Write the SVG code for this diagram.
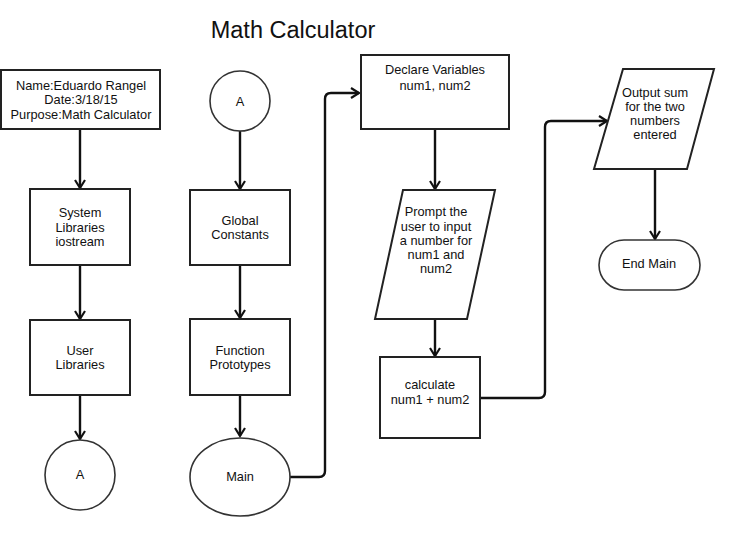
<svg xmlns="http://www.w3.org/2000/svg" width="738" height="535" viewBox="0 0 738 535">
<style>
.box{fill:#fff;stroke:#222;stroke-width:2}
.circ{fill:#fff;stroke:#333;stroke-width:1.6}
.t{font-family:"Liberation Sans",Arial,sans-serif;font-size:12.8px;fill:#111;text-anchor:middle}
.title{font-family:"Liberation Sans",Arial,sans-serif;font-size:23.5px;fill:#111;text-anchor:middle}
.c{fill:none;stroke:#111;stroke-width:2.4;marker-end:url(#ah)}
</style>
<defs>
<marker id="ah" markerUnits="userSpaceOnUse" markerWidth="14" markerHeight="14" viewBox="-10 -7 14 14" refX="0" refY="0" orient="auto">
<path d="M-8,-5 L0,0 L-8,5" fill="none" stroke="#111" stroke-width="2.2"/>
</marker>
</defs>
<rect width="738" height="535" fill="#fff"/>
<text class="title" x="293" y="38">Math Calculator</text>
<g id="connectors">
<path class="c" d="M80,129 V188"/>
<path class="c" d="M80,265 V319"/>
<path class="c" d="M80,395 V439"/>
<path class="c" d="M240,131 V189"/>
<path class="c" d="M240,265 V318"/>
<path class="c" d="M240,395 V436"/>
<path class="c" d="M290,477 H319 Q325,477 325,471 V99 Q325,93 331,93 H359"/>
<path class="c" d="M435,129 V189"/>
<path class="c" d="M435,319 V356"/>
<path class="c" d="M480,398 H539 Q545,398 545,392 V127 Q545,121 551,121 H607"/>
<path class="c" d="M655,169 V239"/>
</g>
<g id="info">
<rect class="box" x="1" y="70" width="159" height="59"/>
<text class="t" x="81" y="89.5">Name:Eduardo Rangel</text>
<text class="t" x="81" y="104">Date:3/18/15</text>
<text class="t" x="81" y="118.5">Purpose:Math Calculator</text>
</g>
<g id="syslib">
<rect class="box" x="30" y="189" width="100" height="76"/>
<text class="t" x="80" y="217">System</text>
<text class="t" x="80" y="231.5">Libraries</text>
<text class="t" x="80" y="246">iostream</text>
</g>
<g id="userlib">
<rect class="box" x="30" y="320" width="100" height="75"/>
<text class="t" x="80" y="355">User</text>
<text class="t" x="80" y="369">Libraries</text>
</g>
<g id="connA1">
<circle class="circ" cx="80" cy="475" r="35"/>
<text class="t" x="80" y="479">A</text>
</g>
<g id="connA2">
<circle class="circ" cx="240" cy="101" r="30"/>
<text class="t" x="240" y="106">A</text>
</g>
<g id="global">
<rect class="box" x="190" y="190" width="100" height="75"/>
<text class="t" x="240" y="225">Global</text>
<text class="t" x="240" y="239">Constants</text>
</g>
<g id="proto">
<rect class="box" x="190" y="319" width="100" height="76"/>
<text class="t" x="240" y="355">Function</text>
<text class="t" x="240" y="369">Prototypes</text>
</g>
<g id="main">
<ellipse class="circ" cx="240" cy="477" rx="50" ry="39"/>
<text class="t" x="240" y="481">Main</text>
</g>
<g id="declare">
<rect class="box" x="361" y="55" width="148" height="74"/>
<text class="t" x="435" y="74">Declare Variables</text>
<text class="t" x="435" y="90">num1, num2</text>
</g>
<g id="prompt">
<polygon class="box" points="403,190 495,190 467,319 375,319"/>
<text class="t" x="436" y="216">Prompt the</text>
<text class="t" x="436" y="230.5">user to input</text>
<text class="t" x="436" y="245">a number for</text>
<text class="t" x="436" y="259">num1 and</text>
<text class="t" x="436" y="273">num2</text>
</g>
<g id="calc">
<rect class="box" x="380" y="357" width="100" height="81"/>
<text class="t" x="430" y="389">calculate</text>
<text class="t" x="430" y="404">num1 + num2</text>
</g>
<g id="output">
<polygon class="box" points="623,69 714,69 687,169 594,169"/>
<text class="t" x="655" y="97">Output sum</text>
<text class="t" x="655" y="111">for the two</text>
<text class="t" x="655" y="125">numbers</text>
<text class="t" x="655" y="139">entered</text>
</g>
<g id="endmain">
<rect class="circ" x="599" y="240" width="101" height="50" rx="25" ry="25"/>
<text class="t" x="649" y="268">End Main</text>
</g>
</svg>
